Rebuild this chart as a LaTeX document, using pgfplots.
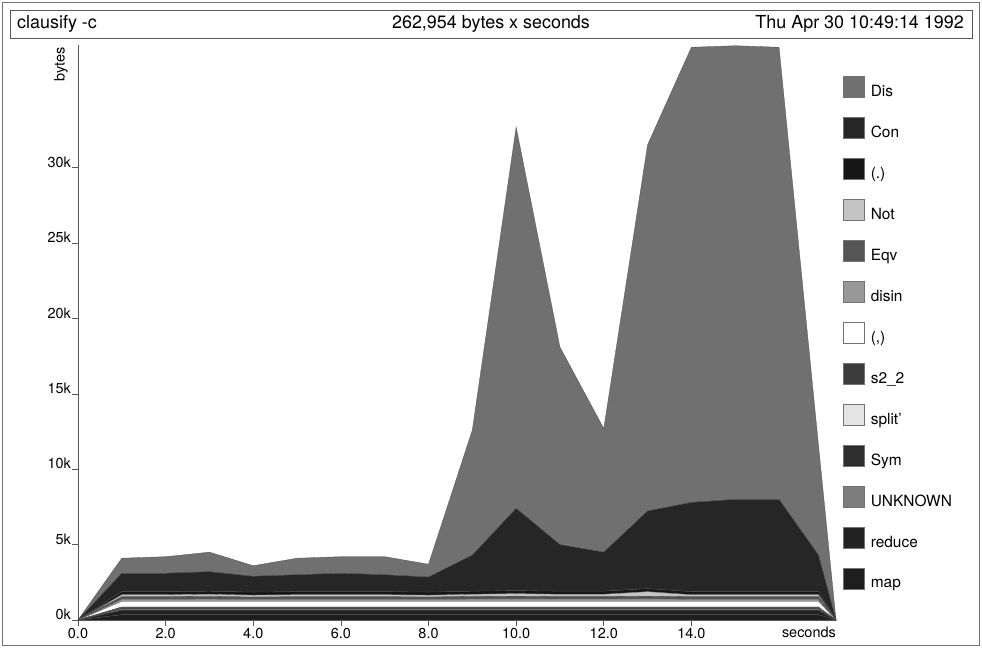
\documentclass[border=0pt]{standalone}
\usepackage{fontspec}
\setmainfont{TeX Gyre Heros}
\usepackage{pgfplots}
\pgfplotsset{compat=1.18}
\usepackage{pgfplotstable}

\pgfplotstableread{
t    map  reduce unk  sym  split s22  comma disin eqv  not  dot  con  dis
0    0    0      0    0    0     0    0     0     0    0    0    0    0
1    0.35 0.30   0.08 0.05 0.03  0.05 0.38  0.14  0.16 0.14 0.20 1.22 1.00
2    0.35 0.30   0.08 0.05 0.03  0.05 0.38  0.14  0.16 0.14 0.20 1.22 1.10
3    0.35 0.30   0.08 0.05 0.03  0.05 0.38  0.15  0.17 0.15 0.20 1.29 1.30
4    0.35 0.30   0.08 0.05 0.03  0.05 0.38  0.13  0.15 0.13 0.20 1.05 0.70
5    0.35 0.30   0.08 0.05 0.03  0.05 0.38  0.14  0.16 0.14 0.20 1.12 1.10
6    0.35 0.30   0.08 0.05 0.03  0.05 0.38  0.14  0.16 0.14 0.20 1.22 1.10
7    0.35 0.30   0.08 0.05 0.03  0.05 0.38  0.14  0.16 0.14 0.20 1.12 1.20
8    0.35 0.30   0.08 0.05 0.03  0.05 0.38  0.13  0.15 0.13 0.20 1.00 0.85
9    0.35 0.30   0.08 0.05 0.03  0.05 0.38  0.15  0.17 0.15 0.20 2.39 8.30
10   0.35 0.30   0.08 0.05 0.03  0.05 0.38  0.16  0.18 0.17 0.20 5.45 25.3
11   0.35 0.30   0.08 0.05 0.03  0.05 0.38  0.15  0.17 0.15 0.20 3.09 13.1
12   0.35 0.30   0.08 0.05 0.03  0.05 0.38  0.15  0.17 0.15 0.20 2.59 8.20
13   0.35 0.30   0.08 0.05 0.03  0.05 0.38  0.16  0.18 0.30 0.20 5.15 24.3
14   0.35 0.30   0.08 0.05 0.03  0.05 0.38  0.14  0.16 0.14 0.20 5.92 30.2
15   0.35 0.30   0.08 0.05 0.03  0.05 0.38  0.14  0.16 0.14 0.20 6.12 30.1
16   0.35 0.30   0.08 0.05 0.03  0.05 0.38  0.14  0.16 0.14 0.20 6.12 30.0
16.9 0.35 0.30   0.08 0.05 0.03  0.05 0.38  0.14  0.16 0.14 0.20 2.42 7.30
17.3 0    0      0    0    0     0    0     0     0    0    0    0    0
}\data

\definecolor{cDis}{HTML}{707070}
\definecolor{cCon}{HTML}{262626}
\definecolor{cDot}{HTML}{161616}
\definecolor{cNot}{HTML}{C4C4C4}
\definecolor{cEqv}{HTML}{555555}
\definecolor{cDisin}{HTML}{999999}
\definecolor{cComma}{HTML}{FFFFFF}
\definecolor{cS22}{HTML}{3C3C3C}
\definecolor{cSplit}{HTML}{E4E4E4}
\definecolor{cSym}{HTML}{2E2E2E}
\definecolor{cUnk}{HTML}{7C7C7C}
\definecolor{cReduce}{HTML}{222222}
\definecolor{cMap}{HTML}{1E1E1E}

\begin{document}
\begin{tikzpicture}
\useasboundingbox (0bp,0bp) rectangle (982bp,648bp);
\draw[black!55, line width=0.8bp] (2.5bp,2.5bp) rectangle (979.5bp,645.5bp);
\draw[black!65, line width=0.9bp] (10bp,610bp) rectangle (972bp,638bp);
\node[anchor=west, inner sep=0pt, font=\fontsize{18}{21}\selectfont] at (17bp,624bp) {clausify -c};
\node[inner sep=0pt, font=\fontsize{18}{21}\selectfont] at (491bp,624bp) {262,954 bytes x seconds};
\node[anchor=east, inner sep=0pt, font=\fontsize{18}{21}\selectfont] at (964bp,624bp) {Thu Apr 30 10:49:14 1992};
\begin{axis}[
  at={(78bp,28bp)}, anchor=south west,
  scale only axis, width=758bp, height=575bp,
  xmin=0, xmax=17.3, ymin=0, ymax=38.15,
  clip=false,
  stack plots=y,
  axis x line*=bottom, axis y line*=left,
  axis line style={black!65, line width=0.7bp},
  tick align=outside, major tick length=6bp,
  tick style={black!65, line width=0.7bp},
  xtick={0,2,...,14},
  xticklabels={0.0,2.0,4.0,6.0,8.0,10.0,12.0,14.0},
  ytick={0,5,...,30},
  yticklabels={0k,5k,10k,15k,20k,25k,30k},
  /pgf/number format/assume math mode=true,
  tick label style={font=\fontsize{14.5}{17}\selectfont},
  yticklabel style={anchor=south east, inner sep=0pt, xshift=-1bp},
  xticklabel style={inner sep=1pt, yshift=-1bp},
  legend image code/.code={\draw[#1, draw=black!55, line width=0.6bp] (0bp,-5.5bp) rectangle (21bp,15.5bp);},
  reverse legend,
  legend cell align=left,
  legend style={draw=none, fill=none, at={(axis description cs:1,1)}, anchor=north west,
    xshift=7bp, yshift=-31bp, inner sep=0pt, row sep=18.8bp, column sep=6bp,
    font=\fontsize{15.5}{18}\selectfont, nodes={inner sep=0pt}},
  every axis plot/.append style={draw=black!70, line width=0.3bp},
]
\addplot[fill=cMap] table[x=t, y=map] {\data} \closedcycle; \addlegendentry{map}
\addplot[fill=cReduce] table[x=t, y=reduce] {\data} \closedcycle; \addlegendentry{reduce}
\addplot[fill=cUnk] table[x=t, y=unk] {\data} \closedcycle; \addlegendentry{UNKNOWN}
\addplot[fill=cSym] table[x=t, y=sym] {\data} \closedcycle; \addlegendentry{Sym}
\addplot[fill=cSplit] table[x=t, y=split] {\data} \closedcycle; \addlegendentry{split'}
\addplot[fill=cS22] table[x=t, y=s22] {\data} \closedcycle; \addlegendentry{s2\_2}
\addplot[fill=cComma] table[x=t, y=comma] {\data} \closedcycle; \addlegendentry{(,)}
\addplot[fill=cDisin] table[x=t, y=disin] {\data} \closedcycle; \addlegendentry{disin}
\addplot[fill=cEqv] table[x=t, y=eqv] {\data} \closedcycle; \addlegendentry{Eqv}
\addplot[fill=cNot] table[x=t, y=not] {\data} \closedcycle; \addlegendentry{Not}
\addplot[fill=cDot] table[x=t, y=dot] {\data} \closedcycle; \addlegendentry{(.)}
\addplot[fill=cCon] table[x=t, y=con] {\data} \closedcycle; \addlegendentry{Con}
\addplot[fill=cDis] table[x=t, y=dis] {\data} \closedcycle; \addlegendentry{Dis}
\path (rel axis cs:1,0) ++(0bp,-7bp) node[anchor=north east, inner sep=0pt, font=\fontsize{14.5}{17}\selectfont] {seconds};
\path (rel axis cs:0,1) ++(-10bp,-2bp) node[rotate=90, anchor=south east, inner sep=0pt, font=\fontsize{14.5}{17}\selectfont] {bytes};
\end{axis}
\end{tikzpicture}
\end{document}
